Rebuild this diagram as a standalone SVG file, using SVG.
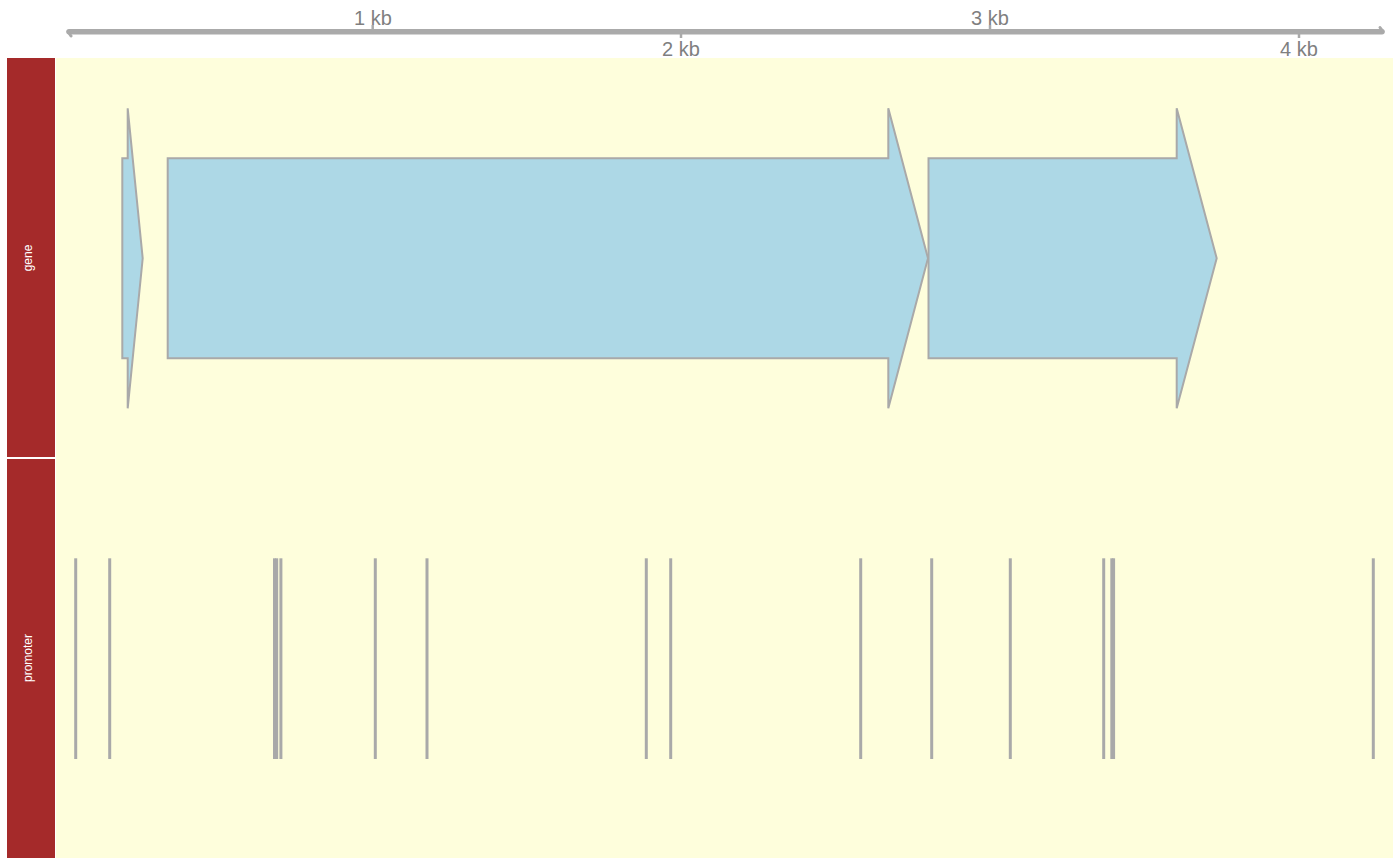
<svg xmlns="http://www.w3.org/2000/svg" width="1400" height="865" viewBox="0 0 1400 865">
<style>
.strip{fill:#A52A2A}
.bg{fill:#FEFEDC}
.gene{fill:#ADD8E6;stroke:#A9A9A9;stroke-width:2;stroke-linejoin:miter}
.prom{stroke:#A9A9A9;stroke-width:3}
.axis{stroke:#AAAAAA;fill:none;stroke-linecap:round}
.tick{stroke:#AAAAAA;stroke-width:2.5}
.lbl{font-family:"Liberation Sans",Arial,sans-serif;font-size:20px;fill:#7F7F7F;text-anchor:middle}
.strip-lbl{font-family:"Liberation Sans",Arial,sans-serif;font-size:12px;fill:#FFFFFF;text-anchor:middle}
</style>
<rect width="1400" height="865" fill="#FFFFFF"/>
<g id="axis">
<line class="axis" x1="69" y1="31.7" x2="1382" y2="31.7" stroke-width="5.5"/>
<path class="axis" d="M68 31.7 L71 36" stroke-width="3"/>
<path class="axis" d="M1383 31.7 L1380 27.5" stroke-width="3"/>
<line class="tick" x1="372.7" y1="25" x2="372.7" y2="31"/>
<line class="tick" x1="681" y1="32" x2="681" y2="38"/>
<line class="tick" x1="990" y1="25" x2="990" y2="31"/>
<line class="tick" x1="1299" y1="32" x2="1299" y2="38"/>
<text class="lbl" x="373" y="25">1 kb</text>
<text class="lbl" x="681" y="56">2 kb</text>
<text class="lbl" x="990" y="25">3 kb</text>
<text class="lbl" x="1299" y="56">4 kb</text>
</g>
<rect class="bg" x="56" y="58" width="1337" height="800"/>
<g id="strip-gene">
<rect class="strip" x="7" y="58" width="48" height="399"/>
<text class="strip-lbl" transform="translate(32,258) rotate(-90)">gene</text>
</g>
<g id="strip-promoter">
<rect class="strip" x="7" y="459" width="48" height="399"/>
<text class="strip-lbl" transform="translate(32,658) rotate(-90)">promoter</text>
</g>
<g id="gene1"><polygon class="gene" points="122.3,158.3 127.7,158.3 127.7,108.3 142.7,258.3 127.7,408.3 127.7,358.3 122.3,358.3"/></g>
<g id="gene2"><polygon class="gene" points="167.7,158.3 888.3,158.3 888.3,108.3 928,258.3 888.3,408.3 888.3,358.3 167.7,358.3"/></g>
<g id="gene3"><polygon class="gene" points="928.5,158.3 1176.7,158.3 1176.7,108.3 1216.7,258.3 1176.7,408.3 1176.7,358.3 928.5,358.3"/></g>
<g id="promoters">
<line class="prom" x1="75.7" y1="558.3" x2="75.7" y2="759"/>
<line class="prom" x1="109.7" y1="558.3" x2="109.7" y2="759"/>
<line class="prom" x1="274.5" y1="558.3" x2="274.5" y2="759"/>
<line class="prom" x1="276.7" y1="558.3" x2="276.7" y2="759"/>
<line class="prom" x1="280.9" y1="558.3" x2="280.9" y2="759"/>
<line class="prom" x1="375.3" y1="558.3" x2="375.3" y2="759"/>
<line class="prom" x1="427" y1="558.3" x2="427" y2="759"/>
<line class="prom" x1="646.3" y1="558.3" x2="646.3" y2="759"/>
<line class="prom" x1="670.7" y1="558.3" x2="670.7" y2="759"/>
<line class="prom" x1="860.7" y1="558.3" x2="860.7" y2="759"/>
<line class="prom" x1="931.7" y1="558.3" x2="931.7" y2="759"/>
<line class="prom" x1="1010.3" y1="558.3" x2="1010.3" y2="759"/>
<line class="prom" x1="1103.7" y1="558.3" x2="1103.7" y2="759"/>
<line class="prom" x1="1111.8" y1="558.3" x2="1111.8" y2="759"/>
<line class="prom" x1="1113.6" y1="558.3" x2="1113.6" y2="759"/>
<line class="prom" x1="1373.3" y1="558.3" x2="1373.3" y2="759"/>
</g>
</svg>
